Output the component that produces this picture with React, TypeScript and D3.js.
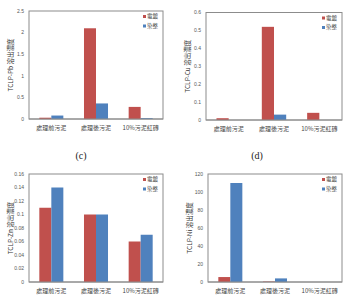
import React from 'react';
import * as d3 from 'd3';

const categories = ['處理前污泥', '處理後污泥', '10%污泥紅磚'];
const seriesNames = ['電鍍', '染整'];
const seriesColors = ['#c0504d', '#4f81bd'];

const pbPlating = [0.03, 2.1, 0.28];
const pbDyeing = [0.08, 0.36, 0.02];
const cuPlating = [0.01, 0.52, 0.04];
const cuDyeing = [0, 0.03, 0];
const znPlating = [0.11, 0.1, 0.06];
const znDyeing = [0.14, 0.1, 0.07];
const niPlating = [5.5, 0.5, 0];
const niDyeing = [110, 4, 0];

const pbTicks = [0, 0.5, 1, 1.5, 2, 2.5];
const cuTicks = [0, 0.1, 0.2, 0.3, 0.4, 0.5, 0.6];
const znTicks = [0, 0.02, 0.04, 0.06, 0.08, 0.1, 0.12, 0.14, 0.16];
const niTicks = [0, 20, 40, 60, 80, 100, 120];

const CJK = '"Noto Sans CJK TC", "Noto Sans", sans-serif';

type PanelProps = {
  left: number; top: number; right: number; bottom: number;
  ticks: number[]; plating: number[]; dyeing: number[]; ylabel: string;
};

function Panel({ left, top, right, bottom, ticks, plating, dyeing, ylabel }: PanelProps) {
  const y = d3.scaleLinear().domain([0, ticks[ticks.length - 1]]).range([bottom, top]);
  const x = d3.scaleBand().domain(categories).range([left, right]).paddingInner(0).paddingOuter(0);
  const x1 = d3.scaleBand().domain(seriesNames).range([0, x.bandwidth()]).paddingOuter(0.86).paddingInner(0);
  const values = [plating, dyeing];
  const midY = (top + bottom) / 2;

  return (
    <g>
      <rect x={left} y={top} width={right - left} height={bottom - top} fill="#fff" stroke="#8c8c8c" strokeWidth={1} />
      {ticks.map(t => (
        <text key={t} x={left - 5} y={y(t)} dy="0.35em" textAnchor="end" fontSize={5} fill="#555" fontFamily="Arial, sans-serif">
          {d3.format('~g')(t)}
        </text>
      ))}
      {seriesNames.map((s, si) =>
        categories.map((c, ci) => {
          const v = values[si][ci];
          return (
            <rect key={s + c} x={(x(c) as number) + (x1(s) as number)} y={y(v)} width={x1.bandwidth()}
              height={bottom - y(v)} fill={seriesColors[si]} />
          );
        })
      )}
      <line x1={left} x2={right} y1={bottom} y2={bottom} stroke="#8c8c8c" />
      {categories.map(c => (
        <text key={c} x={(x(c) as number) + x.bandwidth() / 2} y={bottom + 11} textAnchor="middle" fontSize={6} fill="#444" fontFamily={CJK}>
          {c}
        </text>
      ))}
      <text transform={`translate(${left - 16.5},${midY}) rotate(-90)`} textAnchor="middle" fontSize={6.5} fill="#333" fontFamily={CJK}>
        {ylabel}
      </text>
      {seriesNames.map((s, si) => (
        <g key={s}>
          <rect x={right - 20} y={top + 4 + si * 9.5} width={3} height={3} fill={seriesColors[si]} />
          <text x={right - 16} y={top + 5.5 + si * 9.5} dy="0.35em" fontSize={5.5} fill="#444" fontFamily={CJK}>{s}</text>
        </g>
      ))}
    </g>
  );
}

export default function App() {
  return (
    <svg width={350} height={297} style={{ position: 'absolute', left: 0, top: 0, background: '#fff' }}>
      <rect width={350} height={297} fill="#fff" />
      <Panel left={29} top={11} right={163} bottom={119} ticks={pbTicks} plating={pbPlating} dyeing={pbDyeing} ylabel="TCLP-Pb 溶出濃度" />
      <Panel left={206} top={12.5} right={342} bottom={120} ticks={cuTicks} plating={cuPlating} dyeing={cuDyeing} ylabel="TCLP-Cu 溶出濃度" />
      <Panel left={29} top={174} right={163} bottom={282} ticks={znTicks} plating={znPlating} dyeing={znDyeing} ylabel="TCLP-Zn 溶出濃度" />
      <Panel left={208} top={174} right={342} bottom={282} ticks={niTicks} plating={niPlating} dyeing={niDyeing} ylabel="TCLP-Ni 溶出濃度" />
      <text x={81} y={155} dy="0.35em" textAnchor="middle" fontSize={10} fill="#222" fontFamily="'Liberation Serif', serif">(c)</text>
      <text x={257} y={155} dy="0.35em" textAnchor="middle" fontSize={10} fill="#222" fontFamily="'Liberation Serif', serif">(d)</text>
    </svg>
  );
}
